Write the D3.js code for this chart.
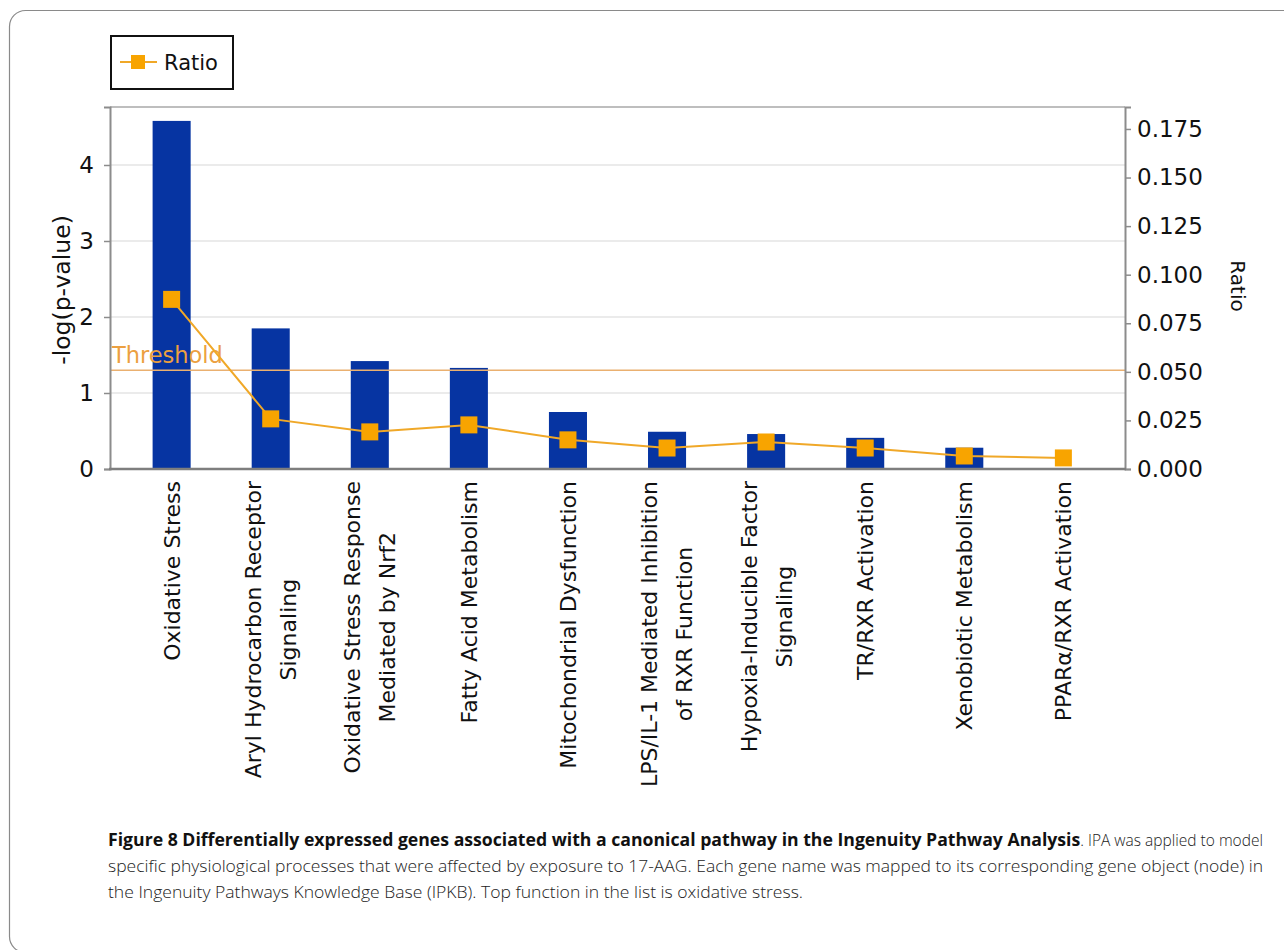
<!DOCTYPE html>
<html>
<head>
<meta charset="utf-8">
<script src="https://cdn.jsdelivr.net/npm/d3@7"></script>
<style>
  html, body { margin: 0; padding: 0; background: #fff; }
  svg { display: block; }
</style>
</head>
<body>
<svg id="chart" width="1284" height="950"></svg>
<script>
// ---- data ----
const categories = [
  "Oxidative Stress",
  "Aryl Hydrocarbon Receptor Signaling",
  "Oxidative Stress Response Mediated by Nrf2",
  "Fatty Acid Metabolism",
  "Mitochondrial Dysfunction",
  "LPS/IL-1 Mediated Inhibition of RXR Function",
  "Hypoxia-Inducible Factor Signaling",
  "TR/RXR Activation",
  "Xenobiotic Metabolism",
  "PPARα/RXR Activation"
];
const labelLines = [
  ["Oxidative Stress"],
  ["Aryl Hydrocarbon Receptor", "Signaling"],
  ["Oxidative Stress Response", "Mediated by Nrf2"],
  ["Fatty Acid Metabolism"],
  ["Mitochondrial Dysfunction"],
  ["LPS/IL-1 Mediated Inhibition", "of RXR Function"],
  ["Hypoxia-Inducible Factor", "Signaling"],
  ["TR/RXR Activation"],
  ["Xenobiotic Metabolism"],
  ["PPARα/RXR Activation"]
];
const negLogP = [4.58, 1.85, 1.42, 1.33, 0.75, 0.49, 0.46, 0.41, 0.28, 0.0];
const ratio = [0.0873, 0.0258, 0.0191, 0.0227, 0.0150, 0.0108, 0.0139, 0.0108, 0.0067, 0.0057];
const threshold = 1.3;
const leftTicks = [0, 1, 2, 3, 4];
const rightTicks = [0, 0.025, 0.05, 0.075, 0.1, 0.125, 0.15, 0.175];
const leftTitle = "-log(p-value)";
const rightTitle = "Ratio";
const legendLabel = "Ratio";
const thresholdLabel = "Threshold";
const captionBold = "Figure 8 Differentially expressed genes associated with a canonical pathway in the Ingenuity Pathway Analysis";
const captionLine1Rest = ". IPA was applied to model";
const captionLine2 = "specific physiological processes that were affected by exposure to 17-AAG. Each gene name was mapped to its corresponding gene object (node) in";
const captionLine3 = "the Ingenuity Pathways Knowledge Base (IPKB). Top function in the list is oxidative stress.";

// ---- layout ----
const svg = d3.select("#chart");
const plot = { left: 110, right: 1125, top: 107, bottom: 469 };
const chartFont = "'DejaVu Sans', Verdana, sans-serif";
const capFont = "'Open Sans', 'Noto Sans', sans-serif";

// frame
svg.append("rect")
  .attr("x", 9.5).attr("y", 10.5).attr("width", 1320).attr("height", 942)
  .attr("rx", 16).attr("fill", "none").attr("stroke", "#8a8a8a").attr("stroke-width", 1.2);

const x = d3.scaleBand().domain(categories).range([plot.left, plot.right])
  .paddingInner(0.616).paddingOuter(0.43);
const yL = d3.scaleLinear().domain([0, 4.763]).range([plot.bottom, plot.top]);
const yR = d3.scaleLinear().domain([0, 0.1863]).range([plot.bottom, plot.top]);

// grid
svg.append("g").selectAll("line").data(leftTicks.filter(d => d > 0)).join("line")
  .attr("x1", plot.left).attr("x2", plot.right)
  .attr("y1", d => yL(d)).attr("y2", d => yL(d))
  .attr("stroke", "#e4e4e4").attr("stroke-width", 1.5);

// top border
svg.append("line").attr("x1", plot.left).attr("x2", plot.right)
  .attr("y1", plot.top).attr("y2", plot.top)
  .attr("stroke", "#a8a8a8").attr("stroke-width", 1.5);

// bars
svg.append("g").selectAll("rect").data(categories).join("rect")
  .attr("x", d => x(d)).attr("width", x.bandwidth())
  .attr("y", (d, i) => yL(negLogP[i]))
  .attr("height", (d, i) => yL(0) - yL(negLogP[i]))
  .attr("fill", "#0634a2");

// threshold
svg.append("line").attr("x1", plot.left).attr("x2", plot.right)
  .attr("y1", yL(threshold)).attr("y2", yL(threshold))
  .attr("stroke", "#eab070").attr("stroke-width", 1.5);
svg.append("text").attr("x", plot.left + 2).attr("y", yL(threshold) - 7)
  .attr("font-family", chartFont).attr("font-size", 22.5)
  .attr("fill", "#eca040").text(thresholdLabel);

// ratio line
const line = d3.line().x((d, i) => x(categories[i]) + x.bandwidth() / 2).y(d => yR(d));
svg.append("path").datum(ratio).attr("d", line)
  .attr("fill", "none").attr("stroke", "#f0a828").attr("stroke-width", 2);
const ms = 17;
svg.append("g").selectAll("rect").data(ratio).join("rect")
  .attr("x", (d, i) => x(categories[i]) + x.bandwidth() / 2 - ms / 2)
  .attr("y", d => yR(d) - ms / 2)
  .attr("width", ms).attr("height", ms)
  .attr("fill", "#f8a400");

// axes
const axL = svg.append("g").attr("transform", `translate(${plot.left},0)`)
  .call(d3.axisLeft(yL).tickValues(leftTicks).tickSize(6).tickPadding(10).tickFormat(d3.format("d")));
const axR = svg.append("g").attr("transform", `translate(${plot.right},0)`)
  .call(d3.axisRight(yR).tickValues(rightTicks).tickSize(6).tickPadding(6).tickFormat(d3.format(".3f")));
[axL, axR].forEach(a => {
  a.select(".domain").attr("stroke", "#8c8c8c").attr("stroke-width", 2);
  a.selectAll(".tick line").attr("stroke", "#8c8c8c").attr("stroke-width", 1.5);
  a.selectAll(".tick text").attr("font-family", chartFont).attr("font-size", 23).attr("fill", "#111");
});
// bottom axis line
svg.append("line").attr("x1", plot.left - 1).attr("x2", plot.right + 1)
  .attr("y1", plot.bottom).attr("y2", plot.bottom)
  .attr("stroke", "#7e7e7e").attr("stroke-width", 2.5);

// axis titles
svg.append("text").attr("transform", "translate(70,290) rotate(-90)")
  .attr("text-anchor", "middle").attr("font-family", chartFont).attr("font-size", 23.5)
  .attr("fill", "#111").text(leftTitle);
svg.append("text").attr("transform", "translate(1231,286) rotate(90)")
  .attr("text-anchor", "middle").attr("font-family", chartFont).attr("font-size", 20)
  .attr("fill", "#111").text(rightTitle);

// category labels
const lblTop = 481, lineGap = 35;
const lg = svg.append("g").selectAll("g").data(categories).join("g")
  .attr("transform", d => `translate(${x(d) + x.bandwidth() / 2},${lblTop}) rotate(-90)`);
lg.each(function(d, i) {
  const g = d3.select(this);
  const lines = labelLines[i];
  const n = lines.length;
  const texts = lines.map((t, j) => g.append("text")
    .attr("font-family", chartFont).attr("font-size", 22)
    .attr("fill", "#111").attr("text-anchor", "middle")
    .attr("y", (j - (n - 1) / 2) * lineGap).attr("dy", "0.36em").text(t));
  const L = d3.max(texts, t => t.node().getComputedTextLength());
  texts.forEach(t => t.attr("x", -L / 2));
});

// legend
svg.append("rect").attr("x", 111).attr("y", 36).attr("width", 122).attr("height", 53)
  .attr("fill", "#fff").attr("stroke", "#111").attr("stroke-width", 2);
svg.append("line").attr("x1", 120).attr("x2", 157).attr("y1", 62).attr("y2", 62)
  .attr("stroke", "#f0a828").attr("stroke-width", 2);
svg.append("rect").attr("x", 131).attr("y", 55).attr("width", 14).attr("height", 14).attr("fill", "#f8a400");
svg.append("text").attr("x", 164).attr("y", 70).attr("font-family", chartFont)
  .attr("font-size", 21).attr("fill", "#111").text(legendLabel);

// caption
const capLeft = 108, capRight = 1263;
const cap = svg.append("g").attr("font-family", capFont).attr("font-size", 17).attr("fill", "#222");
const tb = cap.append("text").attr("x", capLeft).attr("y", 846).attr("font-weight", "bold")
  .attr("fill", "#111").text(captionBold);
const tn = cap.append("text").attr("y", 846).attr("font-weight", 300).text(captionLine1Rest);
const wb = tb.node().getComputedTextLength();
const wn = tn.node().getComputedTextLength() * 0.88;
const k = (capRight - capLeft) / (wb + wn);
tb.attr("textLength", wb * k).attr("lengthAdjust", "spacingAndGlyphs");
tn.attr("x", capLeft + wb * k).attr("textLength", wn * k).attr("lengthAdjust", "spacingAndGlyphs");
cap.append("text").attr("x", capLeft).attr("y", 872).attr("font-weight", 300)
  .attr("textLength", capRight - capLeft).attr("lengthAdjust", "spacingAndGlyphs").text(captionLine2);
cap.append("text").attr("x", capLeft).attr("y", 898).attr("font-weight", 300)
  .attr("textLength", 695).attr("lengthAdjust", "spacingAndGlyphs").text(captionLine3);
</script>
</body>
</html>
